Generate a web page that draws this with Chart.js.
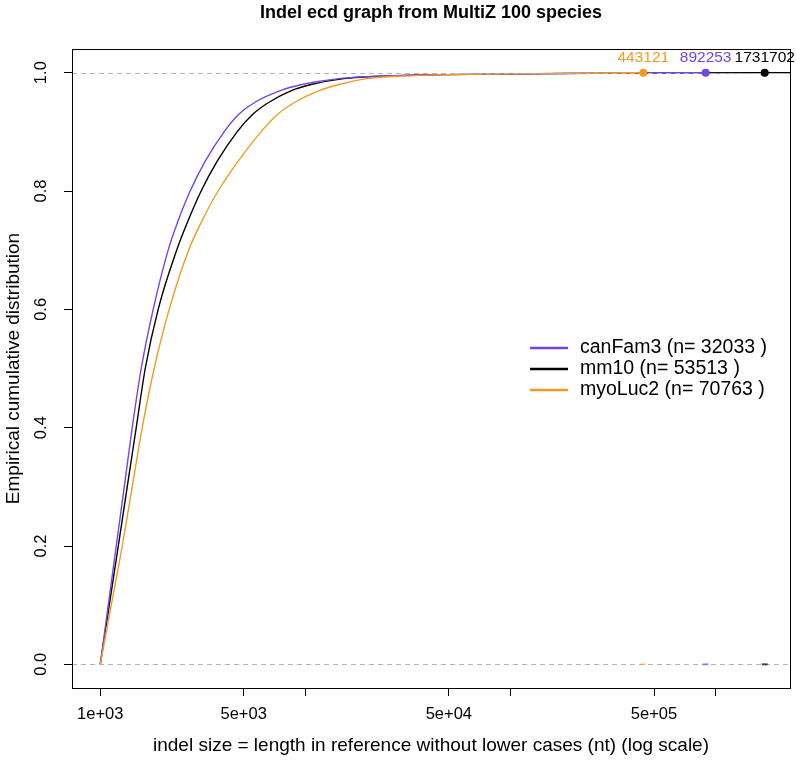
<!DOCTYPE html>
<html>
<head>
<meta charset="utf-8">
<script src="https://cdn.jsdelivr.net/npm/chart.js@4.4.0/dist/chart.umd.min.js"></script>
<style>
html, body { margin: 0; padding: 0; background: #fff; }
#wrap { width: 796px; height: 763px; position: relative; }
</style>
</head>
<body>
<div id="wrap"><canvas id="ecdChart"></canvas></div>
<script>
// indel sizes (nt) at fixed cumulative fractions
const seriesNames = ['canFam3', 'mm10', 'myoLuc2'];
const seriesCounts = [32033, 53513, 70763];
const seriesColors = ['#7445e2', '#000000', '#f39a1f'];
const maxSizes = [892253, 1731702, 443121];
const cumFractions = [0, 0.1, 0.2, 0.3, 0.4, 0.5, 0.6, 0.7, 0.75, 0.8, 0.85, 0.9, 0.93, 0.95, 0.97, 0.98, 0.99, 0.995, 0.998, 0.9995, 1];
const canFam3Sizes = [1000, 1094, 1196, 1309, 1431, 1583, 1811, 2142, 2397, 2741, 3243, 4012, 4747, 5680, 7600, 9616, 14555, 26963, 101000, 335000, 892253];
const mm10Sizes = [1000, 1106, 1224, 1353, 1497, 1656, 1915, 2357, 2681, 3101, 3710, 4642, 5554, 6643, 8596, 10635, 15394, 28510, 110000, 400000, 1731702];
const myoLuc2Sizes = [1000, 1131, 1280, 1431, 1601, 1831, 2167, 2696, 3136, 3752, 4694, 6073, 7348, 8890, 11766, 14555, 19923, 33730, 100000, 250000, 443121];
const xTicks = [1e3, 5e3, 1e4, 5e4, 1e5, 5e5, 1e6];
const xLabelled = [1e3, 5e3, 5e4, 5e5];
const yTicks = [0, 0.2, 0.4, 0.6, 0.8, 1.0];
const xMin = 728, xMax = 2.3e6;
const yMin = -0.04, yMax = 1.04;

const FONT = '"Liberation Sans", Arial, Helvetica, sans-serif';

function sciLabel(v) {
    let e = Math.floor(Math.log10(v) + 1e-9);
    let m = Math.round(v / Math.pow(10, e));
    return m + 'e+' + (e < 10 ? '0' + e : e);
}

let sizeLists = [canFam3Sizes, mm10Sizes, myoLuc2Sizes];
let drawOrder = [1, 2, 0]; // orange on top, then purple, then black

let datasets = seriesNames.map(function (name, i) {
    let pts = sizeLists[i].map(function (x, k) { return { x: x, y: cumFractions[k] }; });
    if (i === 1) pts.push({ x: xMax, y: 1 });
    return {
        type: 'line',
        label: name + ' (n= ' + seriesCounts[i] + ' )',
        data: pts,
        borderColor: seriesColors[i],
        borderWidth: 1.4,
        pointRadius: 0,
        fill: false,
        cubicInterpolationMode: 'monotone',
        order: drawOrder[i]
    };
});

// max size markers at the top
datasets.push({
    type: 'scatter',
    label: 'max',
    data: maxSizes.map(function (x) { return { x: x, y: 1 }; }),
    pointRadius: 4,
    pointBackgroundColor: seriesColors,
    pointBorderColor: seriesColors,
    pointBorderWidth: 0,
    order: -1
});

// tiny marks on the zero line
datasets.push({
    type: 'scatter',
    label: 'zero',
    data: maxSizes.map(function (x) { return { x: x, y: 0 }; }),
    pointStyle: 'line',
    pointRadius: 3,
    pointBorderWidth: 2,
    pointBorderColor: ['rgba(116,69,226,0.6)', 'rgba(0,0,0,0.7)', 'rgba(243,154,31,0.4)'],
    order: -2
});

const rStyle = {
    id: 'rStyle',
    afterDatasetDraw: function (chart, args) {
        if (args.index !== 2) return;
        let ctx = chart.ctx, a = chart.chartArea, ys = chart.scales.y;
        ctx.save();
        ctx.strokeStyle = '#b3b3b3';
        ctx.lineWidth = 1;
        ctx.setLineDash([5, 4]);
        [0, 1].forEach(function (v) {
            let py = Math.round(ys.getPixelForValue(v)) + 0.5;
            ctx.beginPath();
            ctx.moveTo(a.left, py);
            ctx.lineTo(a.right, py);
            ctx.stroke();
        });
        ctx.restore();
    },
    afterDraw: function (chart) {
        let ctx = chart.ctx, a = chart.chartArea;
        let xs = chart.scales.x, ys = chart.scales.y;
        ctx.save();
        // box
        ctx.strokeStyle = '#000';
        ctx.lineWidth = 1;
        ctx.strokeRect(Math.round(a.left) + 0.5, Math.round(a.top) + 0.5, Math.round(a.right - a.left), Math.round(a.bottom - a.top));

        ctx.fillStyle = '#000';
        ctx.textAlign = 'center';
        ctx.textBaseline = 'middle';

        // y tick labels, rotated like R
        ctx.font = '16.5px ' + FONT;
        yTicks.forEach(function (v) {
            ctx.save();
            ctx.translate(41, ys.getPixelForValue(v));
            ctx.rotate(-Math.PI / 2);
            ctx.fillText(v.toFixed(1), 0, 0);
            ctx.restore();
        });

        // axis titles
        ctx.font = '19px ' + FONT;
        ctx.fillText('indel size = length in reference without lower cases (nt) (log scale)', (a.left + a.right) / 2, 746);
        ctx.save();
        ctx.translate(14, (a.top + a.bottom) / 2);
        ctx.rotate(-Math.PI / 2);
        ctx.fillText('Empirical cumulative distribution', 0, 0);
        ctx.restore();

        // main title
        ctx.font = 'bold 18px ' + FONT;
        ctx.fillText('Indel ecd graph from MultiZ 100 species', (a.left + a.right) / 2, 13);

        // max labels above the points
        ctx.font = '15.5px ' + FONT;
        maxSizes.forEach(function (m, i) {
            ctx.fillStyle = seriesColors[i];
            ctx.fillText(String(m), xs.getPixelForValue(m), ys.getPixelForValue(1) - 15);
        });

        // legend
        let ly = [348, 369, 390];
        ctx.textAlign = 'left';
        ctx.font = '19.5px ' + FONT;
        seriesNames.forEach(function (name, i) {
            ctx.strokeStyle = seriesColors[i];
            ctx.lineWidth = 2.5;
            ctx.beginPath();
            ctx.moveTo(530, ly[i]);
            ctx.lineTo(568, ly[i]);
            ctx.stroke();
            ctx.fillStyle = '#000';
            ctx.fillText(name + ' (n= ' + seriesCounts[i] + ' )', 580, ly[i]);
        });
        ctx.restore();
    }
};

let ctx = document.getElementById('ecdChart').getContext('2d');

let ecdChart = new Chart(ctx, {
    data: { datasets: datasets },
    options: {
        responsive: true,
        maintainAspectRatio: false,
        animation: false,
        events: [],
        layout: { padding: { top: 49, right: 4, left: 0, bottom: 0 } },
        plugins: {
            legend: { display: false },
            tooltip: { enabled: false }
        },
        scales: {
            x: {
                type: 'logarithmic',
                min: xMin,
                max: xMax,
                afterFit: function (s) { s.height = 75; },
                afterBuildTicks: function (s) {
                    s.ticks = xTicks.map(function (v) { return { value: v }; });
                },
                grid: { drawOnChartArea: false, drawTicks: true, tickLength: 8, color: '#000' },
                border: { display: true, color: '#000' },
                ticks: {
                    autoSkip: false,
                    maxRotation: 0,
                    minRotation: 0,
                    padding: 9,
                    color: '#000',
                    font: { family: FONT, size: 16.5 },
                    callback: function (v) {
                        return xLabelled.indexOf(v) >= 0 ? sciLabel(v) : '';
                    }
                }
            },
            y: {
                type: 'linear',
                min: yMin,
                max: yMax,
                afterFit: function (s) { s.width = 72; },
                afterBuildTicks: function (s) {
                    s.ticks = yTicks.map(function (v) { return { value: v }; });
                },
                grid: { drawOnChartArea: false, drawTicks: true, tickLength: 8, color: '#000' },
                border: { display: true, color: '#000' },
                ticks: { display: false }
            }
        }
    },
    plugins: [rStyle]
});
</script>
</body>
</html>
